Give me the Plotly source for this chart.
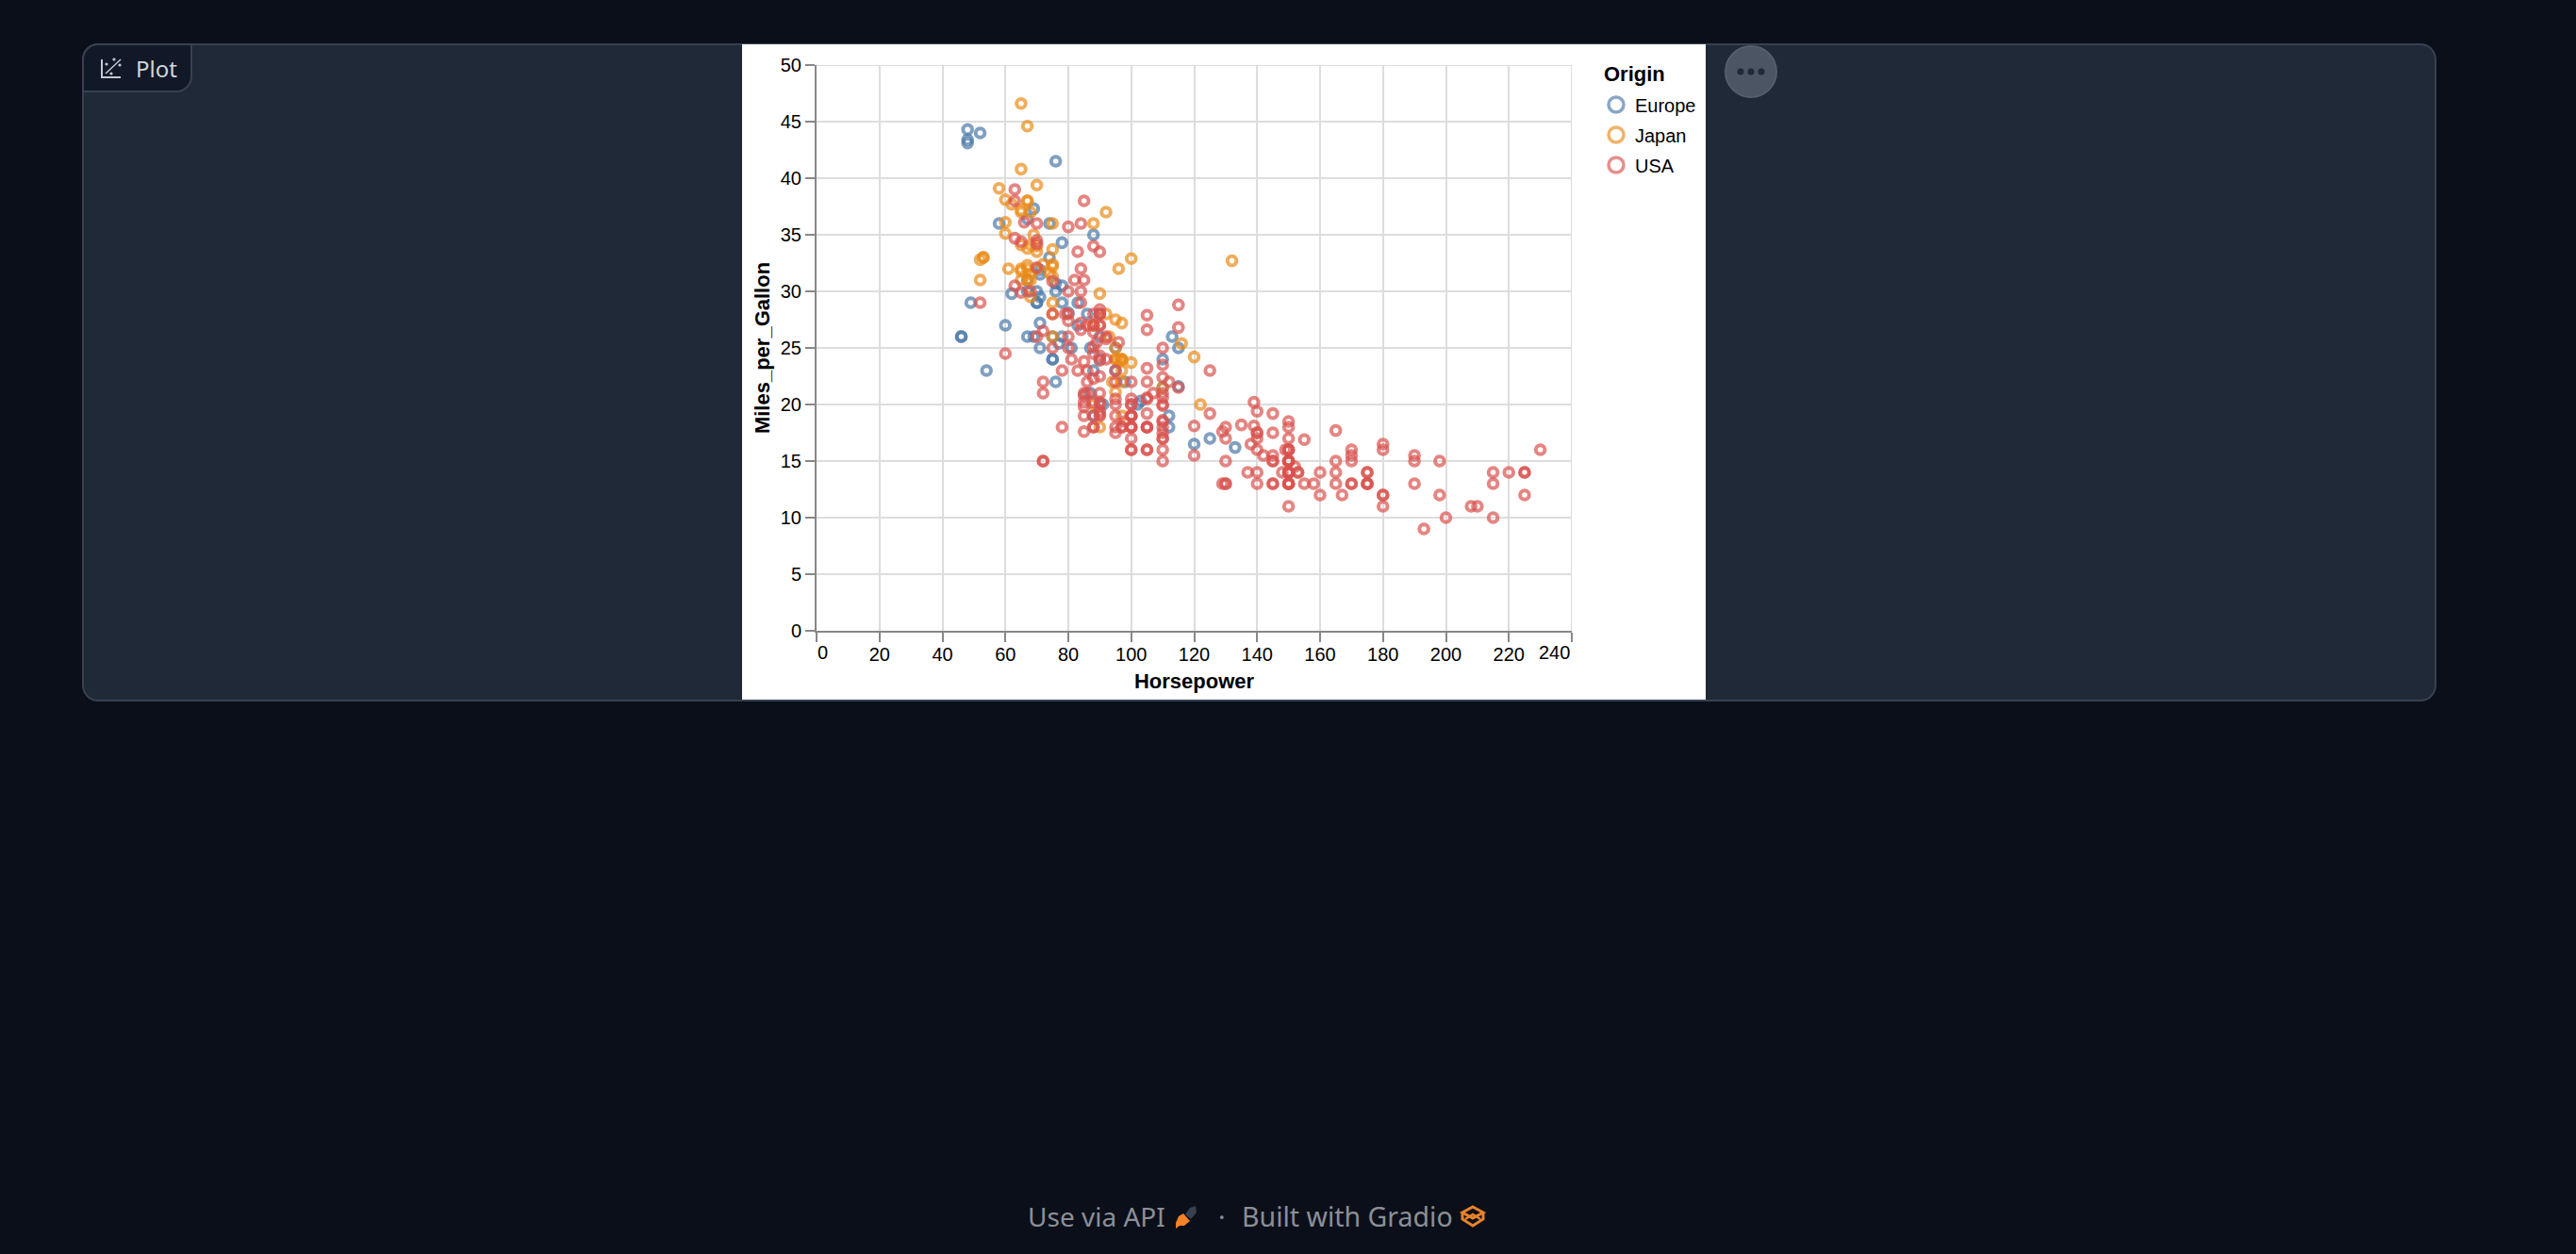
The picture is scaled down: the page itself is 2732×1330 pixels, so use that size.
import math
import plotly.graph_objects as go

# (Horsepower, Miles_per_Gallon)
europe = [(46,26),(87,25),(90,24),(95,25),(113,26),(90,28),(70,30),(76,30),(60,27),(54,23),(112,18),(76,22),(87,21),(69,26),(90,26),(46,26),(75,24),(91,20),(49,29),(110,24),(112,19),(83,29),(67,26),(78,26),(75,24),(75,26),(67,31),(70,29),(95,23),(88,23),(98,22),(115,25),(71,25),(86,28),(81,25),(83,27),(70,29),(71,29.5),(102,20),(88,19),(120,16.5),(58,36),(78,29),(78,30.5),(110,21.5),(48,43.1),(103,20.3),(125,17),(115,21.6),(133,16.2),(71,31.5),(71,31.9),(77,25.4),(71,27.2),(69,37.3),(76,41.5),(78,34.3),(48,44.3),(48,43.4),(67,36.4),(67,30),(62,29.8),(88,35),(74,33),(80,28.1),(76,30.7),(74,36),(52,44)]
japan = [(95,24),(88,27),(88,27),(95,25),(65,31),(69,35),(95,24),(97,19),(92,28),(97,23),(88,27),(88,20),(94,22),(90,18),(122,20),(67,31),(65,32),(52,31),(61,32),(97,24),(93,26),(75,29),(96,24),(97,24),(53,33),(53,33),(70,32),(75,28),(68,31.5),(70,33.5),(75,26),(97,22),(110,21.5),(52,32.8),(70,39.4),(60,36.1),(95,27.5),(97,27.2),(95,21.1),(97,23.9),(68,29.5),(65,34.1),(65,31.8),(65,37.2),(60,38.1),(90,29.8),(75,31.3),(92,37),(75,32.2),(65,46.6),(65,40.8),(67,44.6),(67,33.8),(132,32.7),(100,23.7),(72,32.4),(58,39.1),(60,35.1),(67,32.3),(65,37),(62,37.7),(68,34.1),(75,33.7),(75,32.4),(100,32.9),(74,31.6),(116,25.4),(120,24.2),(68,37),(68,31),(88,36),(75,36),(70,34),(67,38),(67,32),(67,38),(96,32)]
usa = [(130,18),(165,15),(150,18),(150,16),(140,17),(198,15),(220,14),(215,14),(225,14),(190,15),(170,15),(160,14),(150,15),(225,14),(95,22),(97,18),(85,21),(90,21),(215,10),(200,10),(210,11),(193,9),(90,28),(100,19),(105,16),(100,17),(88,19),(100,18),(165,14),(175,14),(153,14),(150,14),(180,12),(170,13),(175,13),(110,18),(72,22),(100,19),(88,18),(86,23),(70,26),(80,25),(90,20),(86,21),(165,13),(175,14),(150,15),(153,14),(150,17),(208,11),(155,13),(160,12),(190,13),(150,15),(130,13),(140,13),(150,14),(86,22),(80,28),(175,13),(150,14),(145,13),(137,14),(150,15),(198,12),(150,13),(158,13),(150,14),(215,13),(225,12),(175,13),(105,18),(100,16),(100,18),(88,18),(95,23),(150,11),(167,12),(170,13),(180,12),(100,18),(72,21),(85,19),(107,21),(145,15),(230,16),(150,15),(180,11),(95,20),(100,19),(80,26),(75,25),(100,16),(110,16),(105,18),(140,16),(150,13),(150,14),(140,14),(150,14),(75,28),(95,19),(105,18),(72,15),(72,15),(170,16),(145,15),(150,16),(148,14),(110,17),(105,16),(110,15),(95,18),(110,21),(110,20),(129,13),(83,23),(100,20),(78,23),(97,18),(90,19),(140,17.5),(150,16),(120,15.5),(152,14.5),(100,22),(105,22),(81,24),(90,22.5),(52,29),(60,24.5),(100,20),(78,18),(110,18.5),(95,17.5),(72,26.5),(150,13),(180,16.5),(145,13),(130,13),(150,13),(80,30),(96,25.5),(145,17.5),(110,17),(145,15.5),(130,15),(110,17.5),(105,20.5),(100,19),(98,18.5),(180,16),(170,15.5),(190,15.5),(149,16),(88,24.5),(89,25.5),(63,30.5),(83,33.5),(66,36.1),(110,19.9),(140,19.4),(139,20.2),(105,19.2),(95,20.5),(85,20.2),(88,25.1),(100,20.5),(90,19.4),(105,20.6),(85,20.8),(110,18.6),(120,18.1),(145,19.2),(165,17.7),(139,18.1),(140,17.5),(68,30),(75,30.9),(105,23.2),(85,23.8),(115,21.5),(85,19.8),(88,22.3),(90,20.2),(110,20.6),(130,17),(129,17.6),(138,16.5),(135,18.2),(155,16.9),(142,15.5),(125,19.2),(150,18.5),(80,35.7),(80,27.4),(125,23),(90,23.9),(70,34.2),(70,34.5),(90,28.4),(115,28.8),(115,26.8),(90,33.5),(70,32.1),(90,28),(88,26.4),(90,24.3),(90,19.1),(105,27.9),(84,27.2),(84,26.6),(92,25.8),(110,23.5),(84,30),(63,39),(63,34.7),(65,34.4),(65,29.9),(110,22.4),(105,26.6),(88,20.2),(85,17.6),(88,28),(88,27),(88,34),(85,31),(84,29),(90,27),(92,24),(63,38),(70,36),(110,25),(85,38),(92,26),(112,22),(84,36),(90,27),(86,27),(84,32),(79,28),(82,31)]

origins = ["Europe", "Japan", "USA"]
colors = ["#4a78a6", "#ea8a18", "#d9534f"]
x_ticks = list(range(0, 241, 20))
y_ticks = list(range(0, 51, 5))
x_labels = ["" if t in (0, 240) else str(t) for t in x_ticks]

fig = go.Figure()
for name, color, pts in zip(origins, colors, (europe, japan, usa)):
    fig.add_trace(go.Scatter(
        x=[p[0] for p in pts], y=[p[1] for p in pts], mode="markers", name=name, legendgroup=name, showlegend=False,
        marker=dict(symbol="circle-open", size=9.6, color=color, opacity=0.7, line=dict(width=4)),
    ))
for name, color in zip(origins, colors):  # legend keys are larger than the plotted rings
    fig.add_trace(go.Scatter(
        x=[None], y=[None], mode="markers", name=name, legendgroup=name, showlegend=True,
        marker=dict(symbol="circle-open", size=16, color=color, opacity=0.65, line=dict(width=3.5)),
    ))

FONT = "Liberation Sans, Helvetica, Arial, sans-serif"
UI = "Noto Sans, Open Sans, sans-serif"
W, H = 2732, 1330

def sh(kind, x0, y0, x1, y1, fill, line=None, lw=0, layer="below"):
    return dict(type=kind, xref="paper", yref="paper", layer=layer,
                x0=(x0-866)/801, x1=(x1-866)/801, y0=(669-y0)/600, y1=(669-y1)/600,
                fillcolor=fill, line=dict(color=line or fill, width=lw))

def path(points, fill="rgba(0,0,0,0)", line=None, lw=0, close=True, layer="above"):
    d = "M" + "L".join(f"{(x-866)/801:.5f},{(669-y)/600:.5f}" for x, y in points) + ("Z" if close else "")
    return dict(type="path", xref="paper", yref="paper", layer=layer, path=d,
                fillcolor=fill, line=dict(color=line or fill, width=lw))

def rounded(x0, y0, x1, y1, tl=0, tr=0, br=0, bl=0):
    pts = []
    def arc(cx, cy, r, a0):
        if r == 0:
            pts.append((cx, cy)); return
        for i in range(9):
            a = math.radians(a0 + i*90/8)
            pts.append((cx + r*math.cos(a), cy + r*math.sin(a)))
    arc(x0+tl, y0+tl, tl, 180); arc(x1-tr, y0+tr, tr, 270); arc(x1-br, y1-br, br, 0); arc(x0+bl, y1-bl, bl, 90)
    return pts

shapes = [
    path(rounded(88, 47, 2583, 743, 16, 16, 16, 16), "#1f2937", "#374151", 2, layer="below"),
    sh("rect", 787, 47, 1809, 742, "#ffffff", layer="below"),
    path(rounded(88, 47, 203, 97, 16, 0, 16, 0), "#111827", "#374151", 2),
    sh("circle", 1830, 49, 1884, 103, "#4b5563", "#565e6b", 2, layer="above"),
    dict(type="line", xref="x", yref="y", layer="below", x0=240, x1=240, y0=0, y1=50, line=dict(color="#dddddd", width=2)),
    dict(type="line", xref="x", yref="y", layer="below", x0=0, x1=240, y0=50, y1=50, line=dict(color="#dddddd", width=2)),
]
for cx in (1846, 1857, 1868):
    shapes.append(sh("circle", cx-3.5, 72.5, cx+3.5, 79.5, "#1f2937", layer="above"))
shapes += [
    path([(108,63),(108,82),(128,82)], line="#c5c9d0", lw=2, close=False),
    path([(112,78),(128,63)], line="#c5c9d0", lw=1.5, close=False),
]
for cx, cy in [(113,68),(121,63),(127,69),(118,78)]:
    shapes.append(sh("circle", cx-1.6, cy-1.6, cx+1.6, cy+1.6, "#c5c9d0", layer="above"))
shapes += [
    path([(1257,1288),(1262,1281),(1268,1279),(1269,1286),(1263,1293)], "#374151"),
    path([(1247,1303),(1247,1297),(1250,1290),(1255,1287),(1262,1295),(1256,1300),(1251,1300)], "#f58225"),
    path([(1562,1280),(1573,1286),(1562,1292),(1551,1286)], "rgba(0,0,0,0)", "#e8832a", 3),
    path([(1551,1286),(1551,1293),(1562,1300),(1573,1293),(1573,1286)], "rgba(0,0,0,0)", "#e8832a", 3, close=False),
    path([(1554,1293),(1562,1288),(1570,1293)], line="#e8832a", lw=2.5, close=False),
]

def note(text, x, y, size, color, xanchor="center", yanchor="middle", family=FONT):
    return dict(text=text, xref="paper", yref="paper", x=(x-866)/801, y=(669-y)/600,
                xanchor=xanchor, yanchor=yanchor, showarrow=False,
                font=dict(size=size, color=color, family=family))

annotations = [
    note("0", 865, 692, 20, "#000", xanchor="left"),
    note("240", 1667, 692, 20, "#000", xanchor="right"),
    note("<b>Origin</b>", 1699, 78, 22, "#000", xanchor="left"),
    note("Plot", 166, 72, 24, "#d1d5db", family=UI),
    note("Use via API", 1163, 1290, 28, "#8b8f98", family=UI),
    note("·", 1296, 1290, 28, "#8b8f98", family=UI),
    note("Built with Gradio", 1429, 1290, 28.5, "#8b8f98", family=UI),
]

fig.update_layout(
    width=W, height=H, autosize=False,
    margin=dict(l=866, r=W-1667, t=69, b=H-669, pad=0),
    paper_bgcolor="#0b0f19", plot_bgcolor="rgba(0,0,0,0)",
    font=dict(family=FONT, size=20, color="#000"),
    shapes=shapes, annotations=annotations, showlegend=True,
    legend=dict(
        x=(1694-866)/801, y=(669-91.5)/600, xanchor="left", yanchor="top",
        font=dict(size=20, color="#000", family=FONT),
        bgcolor="rgba(0,0,0,0)", tracegroupgap=3, itemsizing="trace", itemclick=False, itemwidth=30,
    ),
    xaxis=dict(range=[0, 240], tickvals=x_ticks, ticktext=x_labels, showgrid=True, gridcolor="#dddddd", gridwidth=2,
               zeroline=False, showline=True, linecolor="#888888", linewidth=2, ticks="outside", ticklen=10,
               tickwidth=2, tickcolor="#888888", tickangle=0, tickfont=dict(size=20, color="#000"), ticklabelstandoff=-4,
               title=dict(text="<b>Horsepower</b>", font=dict(size=22, color="#000"), standoff=11), automargin=False),
    yaxis=dict(range=[0, 50], tickvals=y_ticks, showgrid=True, gridcolor="#dddddd", gridwidth=2,
               zeroline=False, showline=True, linecolor="#888888", linewidth=2, ticks="outside", ticklen=10,
               tickwidth=2, tickcolor="#888888", tickfont=dict(size=20, color="#000"),
               title=dict(text="<b>Miles_per_Gallon</b>", font=dict(size=22, color="#000"), standoff=5), automargin=False),
)
fig.write_html("out.html", config=dict(displayModeBar=False),
               post_script="document.body.style.margin='0';document.body.style.background='#0b0f19';")
